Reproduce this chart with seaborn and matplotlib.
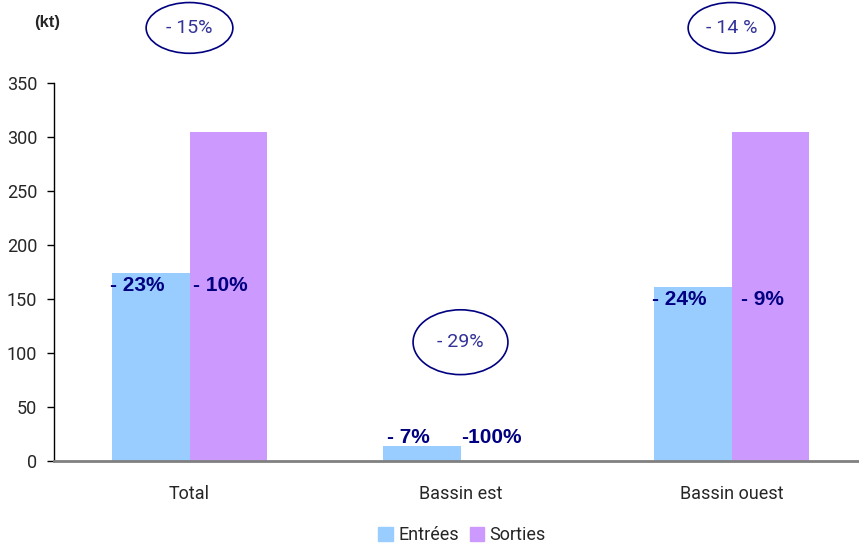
import pandas as pd
import matplotlib.pyplot as plt
import seaborn as sns
from matplotlib.patches import Ellipse, Patch

zones = ['Total', 'Bassin est', 'Bassin ouest']
entrees = [174, 14, 161]
sorties = [305, 0, 305]
lab_entrees = ['- 23%', '- 7%', '- 24%']
lab_sorties = ['- 10%', '-100%', '- 9%']
lab_total = ['- 15%', '- 29%', '- 14 %']

df = pd.DataFrame({
    'zone': zones * 2,
    'flux': ['Entrées'] * 3 + ['Sorties'] * 3,
    'kt': entrees + sorties,
})

sns.set_style('white')
plt.rcParams['font.family'] = ['Roboto', 'DejaVu Sans']

fig = plt.figure(figsize=(8.59, 5.44), dpi=100)
ax = fig.add_axes([54 / 859, 83 / 544, 813 / 859, 378 / 544])

colors = {'Entrées': '#99CCFF', 'Sorties': '#CC99FF'}
sns.barplot(data=df, x='zone', y='kt', hue='flux', palette=colors,
            width=0.57, gap=0, saturation=1, linewidth=0, ax=ax, legend=False)

ax.set_xlim(-0.5, 2.5)
ax.set_ylim(0, 350)
ax.set_yticks(range(0, 351, 50))
ax.set_xlabel('')
ax.set_ylabel('')

for s in ['top', 'right']:
    ax.spines[s].set_visible(False)
ax.spines['left'].set_color('black')
ax.spines['left'].set_linewidth(1)
ax.spines['bottom'].set_color('#808080')
ax.spines['bottom'].set_linewidth(2)

ax.set_xticks([-0.5, 0.5, 1.5, 2.5], minor=True)
ax.tick_params(axis='x', which='major', length=0, pad=17, labelsize=13)
ax.tick_params(axis='x', which='minor', length=5, width=1, color='black', direction='out')
ax.tick_params(axis='y', length=5, width=1, color='black', direction='out',
               pad=7, labelsize=13, left=True)

# bar labels
half = 0.57 / 4
for i in range(3):
    for dx, txt in [(-half - 0.05, lab_entrees[i]), (half - 0.03, lab_sorties[i])]:
        if entrees[i] < 50:
            off, va = -1, 'bottom'
        else:
            off, va = -2, 'top'
        ax.annotate(txt, (i + dx, entrees[i]), xytext=(0, off),
                    textcoords='offset points', ha='center', va=va,
                    fontsize=15, fontweight='bold', color='#000080',
                    family='Liberation Sans', annotation_clip=False)

# ellipses with overall change
for i in range(3):
    yc = max(entrees[i], sorties[i]) + 96
    w, h = (0.35, 60) if i == 1 else (0.32, 47)
    ax.add_patch(Ellipse((i, yc), w, h, fill=False, edgecolor='#000080',
                         linewidth=1.2, clip_on=False))
    ax.text(i, yc, lab_total[i], ha='center', va='center', fontsize=14,
            color='#333399', clip_on=False)

fig.text(47 / 859, 1 - 22 / 544, '(kt)', ha='center', va='center',
         fontsize=12, fontweight='bold', family='Liberation Sans')

handles = [Patch(color=colors[k], label=k) for k in colors]
fig.legend(handles=handles, loc='center', bbox_to_anchor=(462 / 859, 1 - 535 / 544),
           ncol=2, frameon=False, fontsize=13, handlelength=0.8, handleheight=0.8,
           handletextpad=0.3, columnspacing=0.6)

fig.savefig('out.png', dpi=100)
